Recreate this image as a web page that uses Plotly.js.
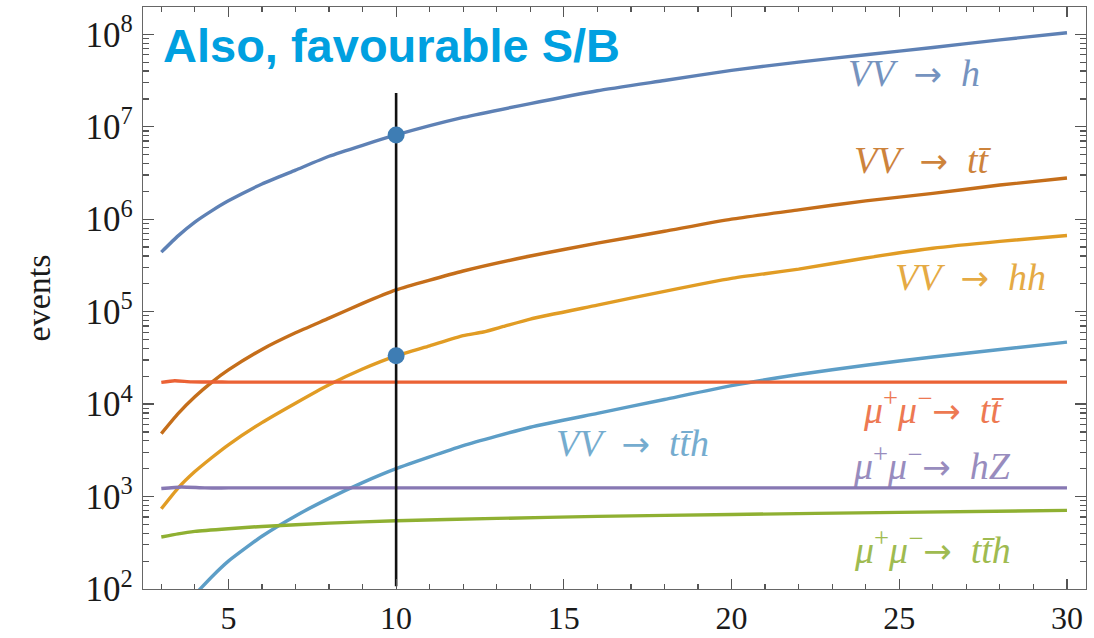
<!DOCTYPE html>
<html>
<head>
<meta charset="utf-8">
<script src="https://cdn.plot.ly/plotly-3.0.1.min.js"></script>
<style>html,body{margin:0;padding:0;background:#fff;}#chart{width:1094px;height:638px;}</style>
</head>
<body>
<div id="chart"></div>
<script>
// ---- data (events vs x) ----
const vvH_x   = [3, 3.5, 4, 4.5, 5, 6, 7, 8, 9, 10, 12, 14, 16, 18, 20, 22, 24, 26, 28, 30];
const vvH_y   = [4.4e5, 6.6e5, 9.3e5, 1.23e6, 1.58e6, 2.4e6, 3.39e6, 4.79e6, 6.3e6, 8.15e6, 1.26e7, 1.78e7, 2.45e7, 3.16e7, 4.07e7, 5.0e7, 6.0e7, 7.2e7, 8.7e7, 1.04e8];

const vvTT_x  = [3, 3.5, 4, 4.5, 5, 6, 7, 8, 9, 10, 12, 14, 16, 18, 20, 22, 24, 26, 28, 30];
const vvTT_y  = [4.8e3, 7.9e3, 1.2e4, 1.72e4, 2.34e4, 3.9e4, 5.9e4, 8.5e4, 1.23e5, 1.72e5, 2.75e5, 4.0e5, 5.5e5, 7.4e5, 1.0e6, 1.26e6, 1.58e6, 1.9e6, 2.34e6, 2.79e6];

const vvHH_x  = [3, 3.5, 4, 4.5, 5, 6, 7, 8, 9, 10, 11, 12, 12.6, 13.2, 14, 16, 18, 20, 21, 22, 24, 26, 28, 30];
const vvHH_y  = [738, 1236, 1862, 2630, 3631, 6310, 10233, 16218, 23988, 33266, 42658, 54950, 60256, 69183, 83176, 117490, 165959, 229087, 257040, 288403, 380189, 485289, 575440, 665273];

const vvTTH_x = [4, 4.5, 5, 6, 7, 8, 9, 10, 12, 14, 16, 18, 20, 22, 24, 26, 28, 30];
const vvTTH_y = [87, 135, 200, 372, 617, 955, 1413, 2000, 3550, 5620, 7940, 11220, 15850, 20890, 26300, 32360, 38900, 46770];

const mmTT_x  = [3, 3.4, 3.9, 5, 10, 15, 20, 25, 30];
const mmTT_y  = [1.72e4, 1.79e4, 1.74e4, 1.73e4, 1.73e4, 1.73e4, 1.73e4, 1.73e4, 1.73e4];

const mmHZ_x  = [3, 3.6, 4.3, 5, 10, 15, 20, 25, 30];
const mmHZ_y  = [1.22e3, 1.27e3, 1.24e3, 1.24e3, 1.24e3, 1.24e3, 1.24e3, 1.24e3, 1.24e3];

const mmTTH_x = [3, 3.5, 4, 5, 6, 8, 10, 13, 16, 20, 25, 30];
const mmTTH_y = [365, 395, 420, 449, 475, 516, 547, 580, 610, 640, 675, 708];

// benchmark point at x = 10
const markX   = [10, 10];
const markY   = [8.15e6, 3.33e4];
const vlineX  = [10, 10];
const vlineY  = [107, 2.32e7];

const yTickVals = [1e2, 1e3, 1e4, 1e5, 1e6, 1e7, 1e8];
const yTickText = ['10<sup>2</sup>','10<sup>3</sup>','10<sup>4</sup>','10<sup>5</sup>','10<sup>6</sup>','10<sup>7</sup>','10<sup>8</sup>'];

const C = {
  vvH:'#5E81B5', vvTT:'#C56E1A', vvHH:'#E19C24', vvTTH:'#5D9EC7',
  mmTT:'#EB6235', mmHZ:'#8778B3', mmTTH:'#8FB032'
};

function line(x, y, color){
  return {x:x, y:y, type:'scatter', mode:'lines', line:{color:color, width:3.4, shape:'spline', smoothing:0.5}, hoverinfo:'skip', showlegend:false};
}

const traces = [
  line(vvH_x, vvH_y, C.vvH),
  line(vvTT_x, vvTT_y, C.vvTT),
  line(vvHH_x, vvHH_y, C.vvHH),
  line(vvTTH_x, vvTTH_y, C.vvTTH),
  line(mmTT_x, mmTT_y, C.mmTT),
  line(mmHZ_x, mmHZ_y, C.mmHZ),
  line(mmTTH_x, mmTTH_y, C.mmTTH),
  {x:vlineX, y:vlineY, type:'scatter', mode:'lines', line:{color:'#111', width:2.6}, hoverinfo:'skip', showlegend:false},
  {x:markX, y:markY, type:'scatter', mode:'markers', marker:{color:'#3E7DB4', size:17}, hoverinfo:'skip', showlegend:false}
];

const serif = 'Liberation Serif, DejaVu Serif, serif';
function lab(text, x, ly, c){
  return {text:text, x:x, y:ly, xref:'x', yref:'y', showarrow:false,
          font:{family:serif, size:38, color:c}, xanchor:'center', yanchor:'middle', opacity:0.85};
}
const tb = 't\u0304';
const AR = '<span style="font-family:DejaVu Sans;font-size:34px">→</span>';
const MM = '<i>μ</i><sup>+</sup><i>μ</i><sup>−</sup>';
const annotations = [
  lab('<i>VV</i>  ' + AR + '  <i>h</i>', 25.45, 7.582, C.vvH),
  lab('<i>VV</i>  ' + AR + '  <i>t' + tb + '</i>', 25.71, 6.641, C.vvTT),
  lab('<i>VV</i>  ' + AR + '  <i>hh</i>', 27.12, 5.376, C.vvHH),
  lab('<i>VV</i>  ' + AR + '  <i>t' + tb + 'h</i>', 17.04, 3.582, C.vvTTH),
  lab(MM + AR + '  <i>t' + tb + '</i>', 26.01, 3.971, C.mmTT),
  lab(MM + AR + '  <i>hZ</i>', 25.98, 3.365, C.mmHZ),
  lab(MM + AR + '  <i>t' + tb + 'h</i>', 25.98, 2.457, C.mmTTH)
];

const axisCommon = {
  showgrid:false, zeroline:false, showline:true, linecolor:'#666', linewidth:1.2,
  mirror:'allticks', ticks:'inside', tickcolor:'#555', tickwidth:1.2
};

const layout = {
  width:1094, height:638,
  margin:{l:143, r:8, t:7, b:49},
  paper_bgcolor:'#fff', plot_bgcolor:'#fff',
  showlegend:false,
  title:{text:'<b>Also, favourable S/B</b>', x:163/1094, xanchor:'left', xref:'container', y:1-29/638, yanchor:'top', yref:'container',
         font:{family:'Liberation Sans, Arial, sans-serif', size:47, color:'#00A0E0'}},
  xaxis: Object.assign({}, axisCommon, {
    type:'linear', range:[2.454, 30.567], tick0:0, dtick:5, ticklen:10,
    minor:{ticks:'inside', tick0:0, dtick:1, ticklen:5, tickcolor:'#555', tickwidth:1.2},
    tickfont:{family:serif, size:32, color:'#1a1a1a'},
    ticklabelstandoff:0
  }),
  yaxis: Object.assign({}, axisCommon, {
    type:'log', range:[2, 8.295], tickmode:'array', tickvals:yTickVals, ticktext:yTickText, ticklen:11,
    minor:{ticks:'inside', tickmode:'linear', dtick:'D1', ticklen:6, tickcolor:'#555', tickwidth:1.2},
    tickfont:{family:serif, size:35, color:'#1a1a1a'},
    ticklabelstandoff:2,
    title:{text:'events', font:{family:serif, size:34, color:'#1a1a1a'}, standoff:24}
  }),
  annotations:annotations
};

Plotly.newPlot('chart', traces, layout, {staticPlot:true, displayModeBar:false});
</script>
</body>
</html>
